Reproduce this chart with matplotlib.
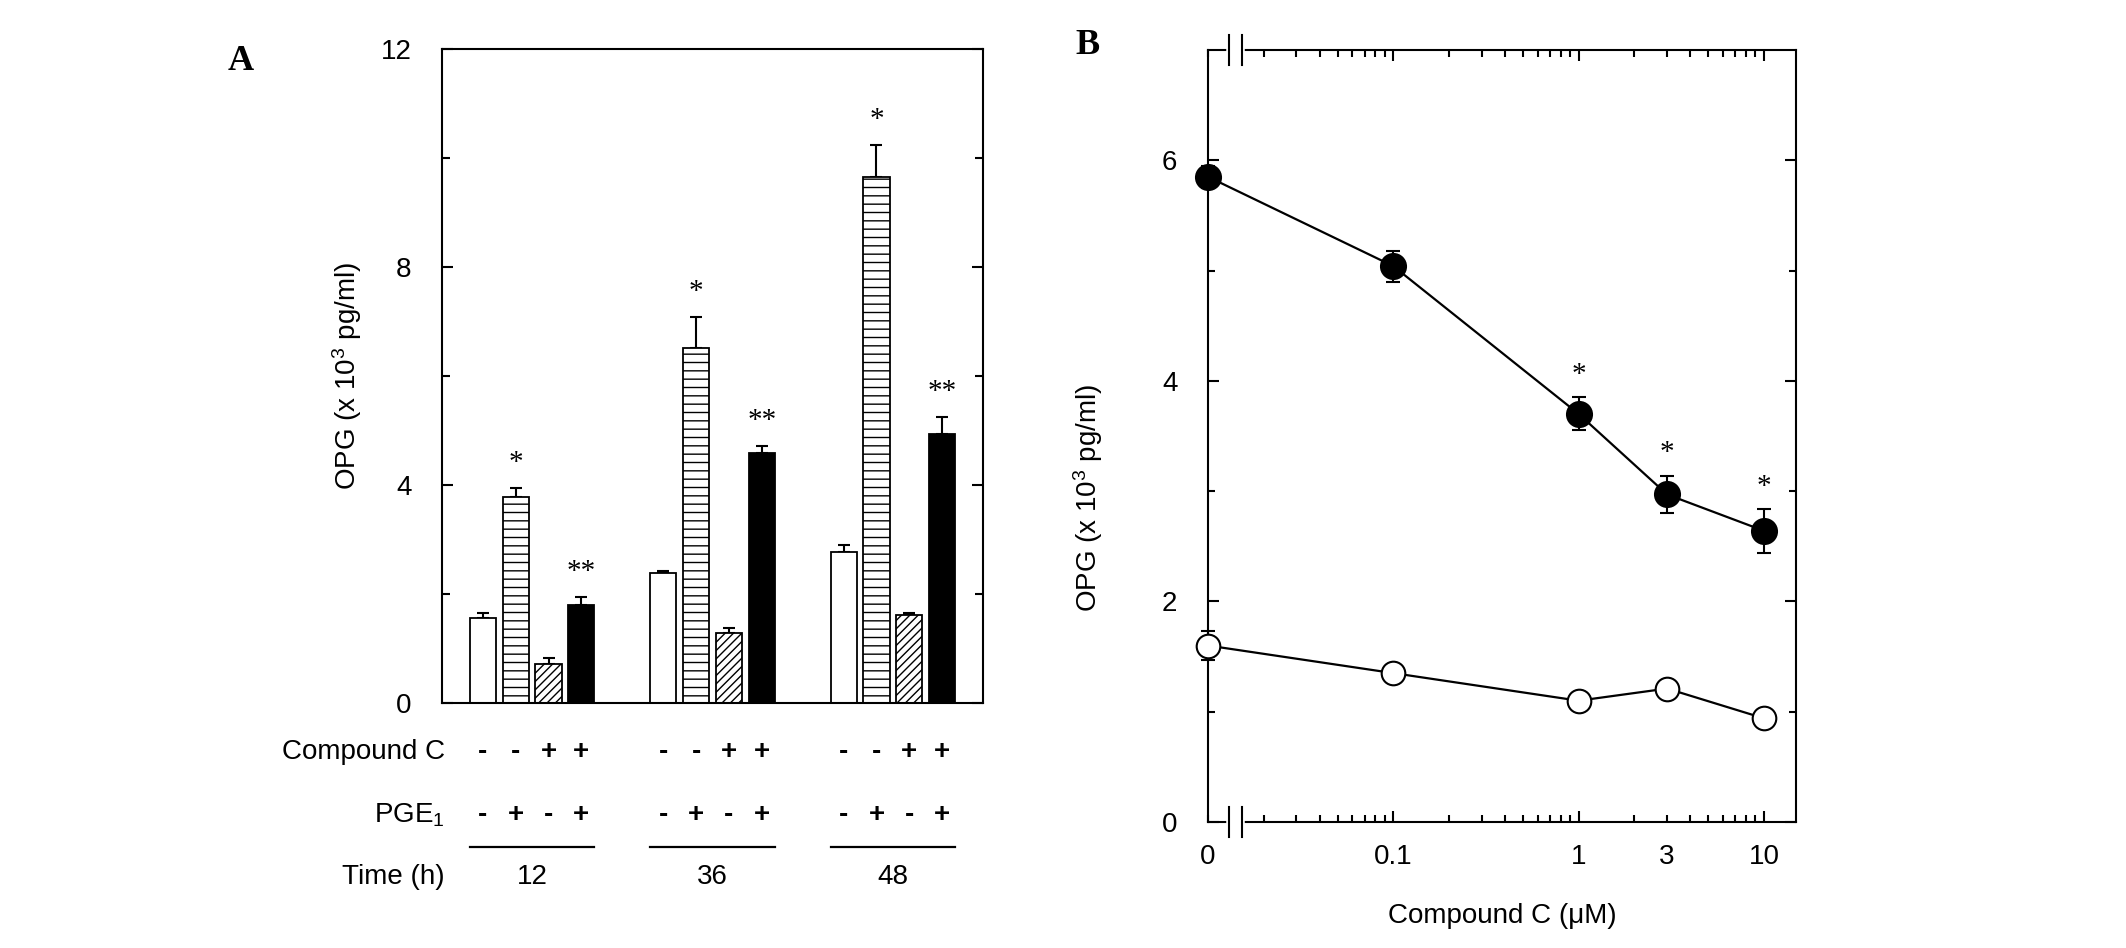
import numpy as np
import matplotlib
matplotlib.use("Agg")
import matplotlib.pyplot as plt
from matplotlib.transforms import blended_transform_factory

plt.rcParams['font.family'] = ['Liberation Sans', 'DejaVu Sans']
plt.rcParams['mathtext.default'] = 'regular'
plt.rcParams['hatch.linewidth'] = 1.0

# ---- panel A data ----
times = ['12', '36', '48']
compound_c_signs = ['-', '-', '+', '+']
pge1_signs = ['-', '+', '-', '+']

control = [1.56, 2.39, 2.78]
control_err = [0.09, 0.03, 0.12]
pge1_only = [3.78, 6.51, 9.65]
pge1_only_err = [0.17, 0.57, 0.58]
cc_only = [0.72, 1.28, 1.62]
cc_only_err = [0.10, 0.10, 0.03]
cc_pge1 = [1.80, 4.58, 4.93]
cc_pge1_err = [0.14, 0.13, 0.32]

# ---- panel B data ----
dose_labels = ['0', '0.1', '1', '3', '10']
dose = [0.01, 0.1, 1, 3, 10]        # 0 drawn at the axis break position
with_pge1 = [5.85, 5.04, 3.70, 2.97, 2.64]
with_pge1_err = [0.10, 0.14, 0.15, 0.17, 0.20]
without_pge1 = [1.60, 1.35, 1.10, 1.21, 0.94]
without_pge1_err = [0.13, 0.04, 0.03, 0.03, 0.03]
star_b = [False, False, True, True, True]

fig = plt.figure(figsize=(21.26, 9.48), dpi=100)

# ================= panel A =================
axA = fig.add_axes([0.2079, 0.2584, 0.2545, 0.6899])
group_step = 5.5
series = [
    (control, control_err, dict(facecolor='white', hatch=None), ''),
    (pge1_only, pge1_only_err, dict(facecolor='white', hatch='--'), '*'),
    (cc_only, cc_only_err, dict(facecolor='white', hatch='////'), ''),
    (cc_pge1, cc_pge1_err, dict(facecolor='black', hatch=None), '**'),
]
gx = np.arange(len(times)) * group_step
for i, (vals, errs, style, mark) in enumerate(series):
    x = gx + i
    axA.bar(x, vals, width=0.8, edgecolor='black', linewidth=1.3, zorder=2, **style)
    axA.errorbar(x, vals, yerr=[np.zeros(len(vals)), errs], fmt='none',
                 ecolor='black', elinewidth=1.5, capsize=4.5, capthick=1.5, zorder=1)
    if mark:
        for xi, v, e in zip(x, vals, errs):
            axA.annotate(mark, (xi, v + e), xytext=(0, 13), textcoords='offset points',
                         ha='center', va='baseline', fontsize=21,
                         family='Liberation Serif')

axA.set_xlim(-1.25, gx[-1] + 3 + 1.25)
axA.set_ylim(0, 12)
axA.set_yticks([0, 4, 8, 12])
axA.set_yticks([2, 6, 10], minor=True)
axA.set_xticks([])
axA.tick_params(axis='y', which='both', direction='in', right=True, labelsize=20, pad=22, width=1.5)
axA.tick_params(axis='y', which='major', length=8)
axA.tick_params(axis='y', which='minor', length=6)
for s in axA.spines.values():
    s.set_linewidth(1.5)
axA.set_ylabel('OPG (x 10$^3$ pg/ml)', fontsize=20)
axA.yaxis.set_label_coords(-0.145, 0.5)

# table below panel A
tr = blended_transform_factory(axA.transData, fig.transFigure)
row_y = {'cc': 0.2068, 'pge': 0.1403, 'line': 0.1065, 'time': 0.0749}
fig.text(0.2093, row_y['cc'], 'Compound C', ha='right', va='center', fontsize=20)
fig.text(0.2093, row_y['pge'], 'PGE$_1$', ha='right', va='center', fontsize=20)
fig.text(0.2093, row_y['time'], 'Time (h)', ha='right', va='center', fontsize=20)
for g, t in zip(gx, times):
    for i in range(4):
        axA.text(g + i, row_y['cc'], compound_c_signs[i], transform=tr, ha='center',
                 va='center', fontsize=20, fontweight='bold')
        axA.text(g + i, row_y['pge'], pge1_signs[i], transform=tr, ha='center',
                 va='center', fontsize=20, fontweight='bold')
    axA.plot([g - 0.4, g + 3.4], [row_y['line']] * 2, color='black', lw=1.6,
             transform=tr, clip_on=False)
    axA.text(g + 1.5, row_y['time'], t, transform=tr, ha='center', va='center', fontsize=20)

fig.text(0.1134, 0.935, 'A', fontsize=26, fontweight='bold', family='Liberation Serif',
         ha='center', va='center')

# ================= panel B =================
axB = fig.add_axes([0.5682, 0.1329, 0.2766, 0.8144])
axB.set_xscale('log')
axB.errorbar(dose, with_pge1, yerr=with_pge1_err, fmt='-o', color='black',
             markerfacecolor='black', markeredgecolor='black', markersize=18,
             markeredgewidth=1.5, lw=1.6, elinewidth=1.5, capsize=5, capthick=1.5,
             clip_on=False, zorder=3)
axB.errorbar(dose, without_pge1, yerr=without_pge1_err, fmt='-o', color='black',
             markerfacecolor='white', markeredgecolor='black', markersize=17,
             markeredgewidth=1.5, lw=1.6, elinewidth=1.5, capsize=5, capthick=1.5,
             clip_on=False, zorder=3)
for d, v, e, s in zip(dose, with_pge1, with_pge1_err, star_b):
    if s:
        axB.annotate('*', (d, v + e), xytext=(0, 11), textcoords='offset points',
                     ha='center', va='baseline', fontsize=21, family='Liberation Serif')

axB.set_xlim(0.01, 14.9)
axB.set_ylim(0, 7)
axB.set_xticks([0.1, 1, 10], labels=['0.1', '1', '10'])
minor = [0.01] + [k * 0.01 for k in range(2, 10)] + [k * 0.1 for k in range(2, 10)] \
    + [k * 1.0 for k in range(2, 10)]
minor_labels = ['0'] + [''] * 8 + [''] * 8 + ['', '3'] + [''] * 6
axB.set_xticks(minor, labels=minor_labels, minor=True)
axB.set_yticks([0, 2, 4, 6])
axB.set_yticks([1, 3, 5], minor=True)
axB.tick_params(axis='both', which='both', direction='in', top=True, right=True,
                labelsize=20, width=1.5)
axB.tick_params(axis='x', which='both', pad=16)
axB.tick_params(axis='y', which='both', pad=22)
axB.tick_params(which='major', length=8)
axB.tick_params(which='minor', length=5)
for s in axB.spines.values():
    s.set_linewidth(1.5)
axB.set_ylabel('OPG (x 10$^3$ pg/ml)', fontsize=20)
axB.yaxis.set_label_coords(-0.175, 0.42)
axB.set_xlabel('Compound C (μM)', fontsize=20)
axB.xaxis.set_label_coords(0.5, -0.105)

# axis break marks
brk = blended_transform_factory(axB.transData, axB.transAxes)
b0, b1 = 0.0130, 0.0153
for yy in (0, 1):
    axB.plot([b0, b1], [yy, yy], color='white', lw=4, transform=brk, clip_on=False, zorder=5)
    for bx in (b0, b1):
        axB.plot([bx, bx], [yy - 0.02, yy + 0.02], color='black', lw=1.5,
                 transform=brk, clip_on=False, zorder=6)

fig.text(0.5113, 0.952, 'B', fontsize=26, fontweight='bold', family='Liberation Serif',
         ha='center', va='center')

fig.savefig('out.png', dpi=100)
